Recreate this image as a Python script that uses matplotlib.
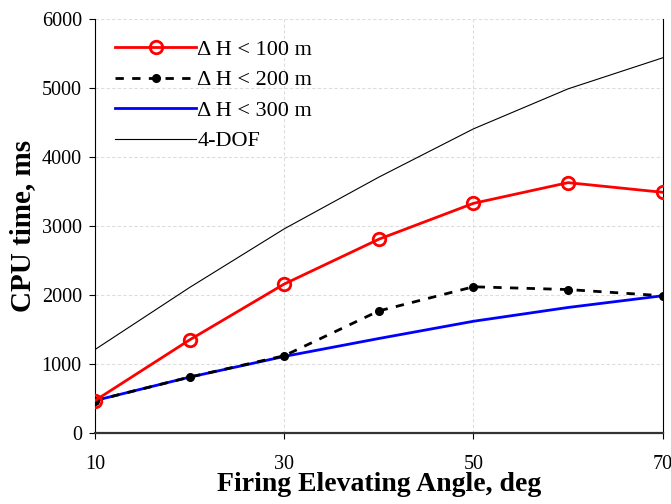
import matplotlib
matplotlib.use('Agg')
import matplotlib.pyplot as plt

# firing elevating angle (deg)
angle = [10, 20, 30, 40, 50, 60, 70]

# CPU time (ms)
cpu_h100 = [470, 1350, 2160, 2810, 3330, 3630, 3490]
cpu_h200 = [470, 810, 1120, 1770, 2120, 2080, 1990]
cpu_h300 = [470, 810, 1110, 1370, 1620, 1820, 1990]
cpu_4dof = [1210, 2110, 2960, 3710, 4410, 4990, 5440]

labels = ['Δ H < 100 m', 'Δ H < 200 m', 'Δ H < 300 m', '4-DOF']

plt.rcParams['font.family'] = ['Liberation Serif', 'DejaVu Serif']

fig = plt.figure(figsize=(6.71, 5.04), dpi=100)
ax = fig.add_axes([0.1416, 0.1409, 0.846, 0.821])

ax.plot(angle, cpu_h100, color='red', lw=2, marker='o', ms=9, mfc='none', mew=2, label=labels[0], zorder=5)
ax.plot(angle, cpu_h200, color='black', lw=2, ls=(0, (3, 3)), marker='o', ms=5.5, label=labels[1], zorder=4)
ax.plot(angle, cpu_h300, color='blue', lw=2, label=labels[2], zorder=3)
ax.plot(angle, cpu_4dof, color='black', lw=0.8, label=labels[3], zorder=3)

ax.set_xlim(10, 70)
ax.set_ylim(0, 6000)
ax.set_xticks([10, 30, 50, 70])
ax.set_yticks(range(0, 6001, 1000))
ax.tick_params(direction='out', labelsize=14.5, length=4.5)
ax.tick_params(axis='x', pad=11)
ax.tick_params(axis='y', pad=5)
ax.grid(True, color='#dddddd', lw=0.8, ls=(0, (3, 2)))
ax.set_axisbelow(True)

ax.spines['top'].set_visible(False)
ax.spines['bottom'].set_linewidth(1.6)
ax.spines['bottom'].set_color('#333333')

ax.set_xlabel('Firing Elevating Angle, deg', fontsize=20, fontweight='bold', labelpad=-1)
ax.set_ylabel('CPU time, ms', fontsize=21, fontweight='bold', labelpad=4)

ax.legend(loc='upper left', frameon=False, fontsize=16, handlelength=3.65,
          handletextpad=0.05, labelspacing=0.45, borderaxespad=0.5)

fig.savefig('out.png', dpi=100)
